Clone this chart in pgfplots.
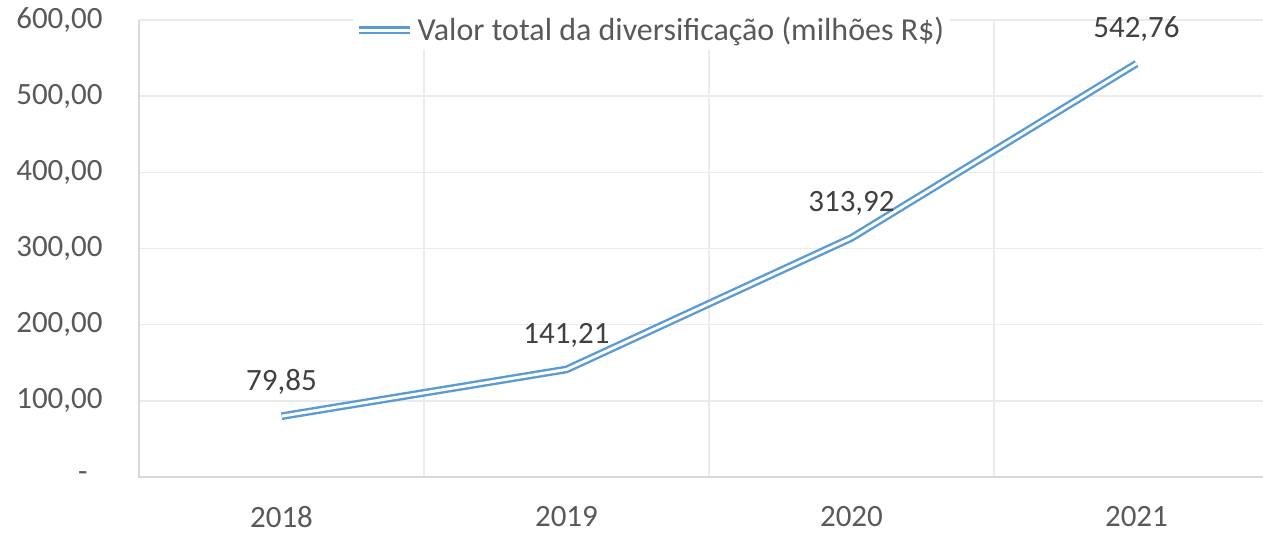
\documentclass[border=0pt]{standalone}
\usepackage{pgfplots}
\pgfplotsset{compat=1.18}
\usepackage{fontspec}
\setmainfont{Carlito}
\definecolor{gridc}{HTML}{EBEBEB}
\definecolor{axisc}{HTML}{D9D9D9}
\definecolor{ticktxt}{HTML}{595959}
\definecolor{lbltxt}{HTML}{404040}
\definecolor{linec}{HTML}{5B9BD5}
\pgfplotstableread{
x y
0 79.85
1 141.21
2 313.92
3 542.76
}\datatable
\begin{document}
\begin{tikzpicture}
\begin{axis}[
  name=ax,
  scale only axis,
  width=562pt, height=228.5pt,
  xmin=-0.5, xmax=3.444,
  ymin=0, ymax=600,
  axis line style={draw=none},
  xtick={0,1,2,3},
  xticklabels={2018,2019,2020,2021},
  extra x ticks={0.5,1.5,2.5},
  extra x tick labels={},
  extra x tick style={grid=major, major grid style={draw=gridc, line width=0.75pt}},
  ytick={0,100,200,300,400,500,600},
  yticklabels={{-\kern7.5pt},{100,00},{200,00},{300,00},{400,00},{500,00},{600,00}},
  ymajorgrids,
  major grid style={draw=gridc, line width=0.75pt},
  major tick length=0pt,
  tick style={draw=none},
  ticklabel style={font=\fontsize{15.5}{18}\selectfont, text=ticktxt},
  yticklabel style={inner sep=0pt, xshift=-18pt},
  xticklabel style={inner sep=0pt, yshift=-14.5pt},
  legend style={at={(0.456,0.978)}, anchor=center, draw=none, fill=white,
    font=\fontsize{16}{19}\selectfont, text=ticktxt, inner sep=1pt},
  legend image code/.code={\draw[#1] (0pt,0pt) -- (25.5pt,0pt);},
  clip=false,
]
\draw[axisc, line width=0.75pt] (axis cs:-0.5,600) -- (axis cs:-0.5,0) -- (axis cs:3.444,0);
\addplot[draw=linec, line width=1.2pt, double=white, double distance=1.45pt,
  nodes near coords={\pgfmathprintnumber[fixed,fixed zerofill,precision=2,use comma]{\pgfplotspointmeta}},
  nodes near coords style={anchor=base, yshift=13pt, font=\fontsize{15.5}{18}\selectfont, text=lbltxt},
  every node near coord/.append style={/pgf/number format/assume math mode=true}
] table[x=x,y=y] {\datatable};
\addlegendentry{Valor total da diversificação (milhões R\$)}
\end{axis}
\pgfresetboundingbox
\path[use as bounding box] (ax.south west) ++(-69.5pt,-27.5pt) rectangle ++(631.5pt,266pt);
\end{tikzpicture}
\end{document}
